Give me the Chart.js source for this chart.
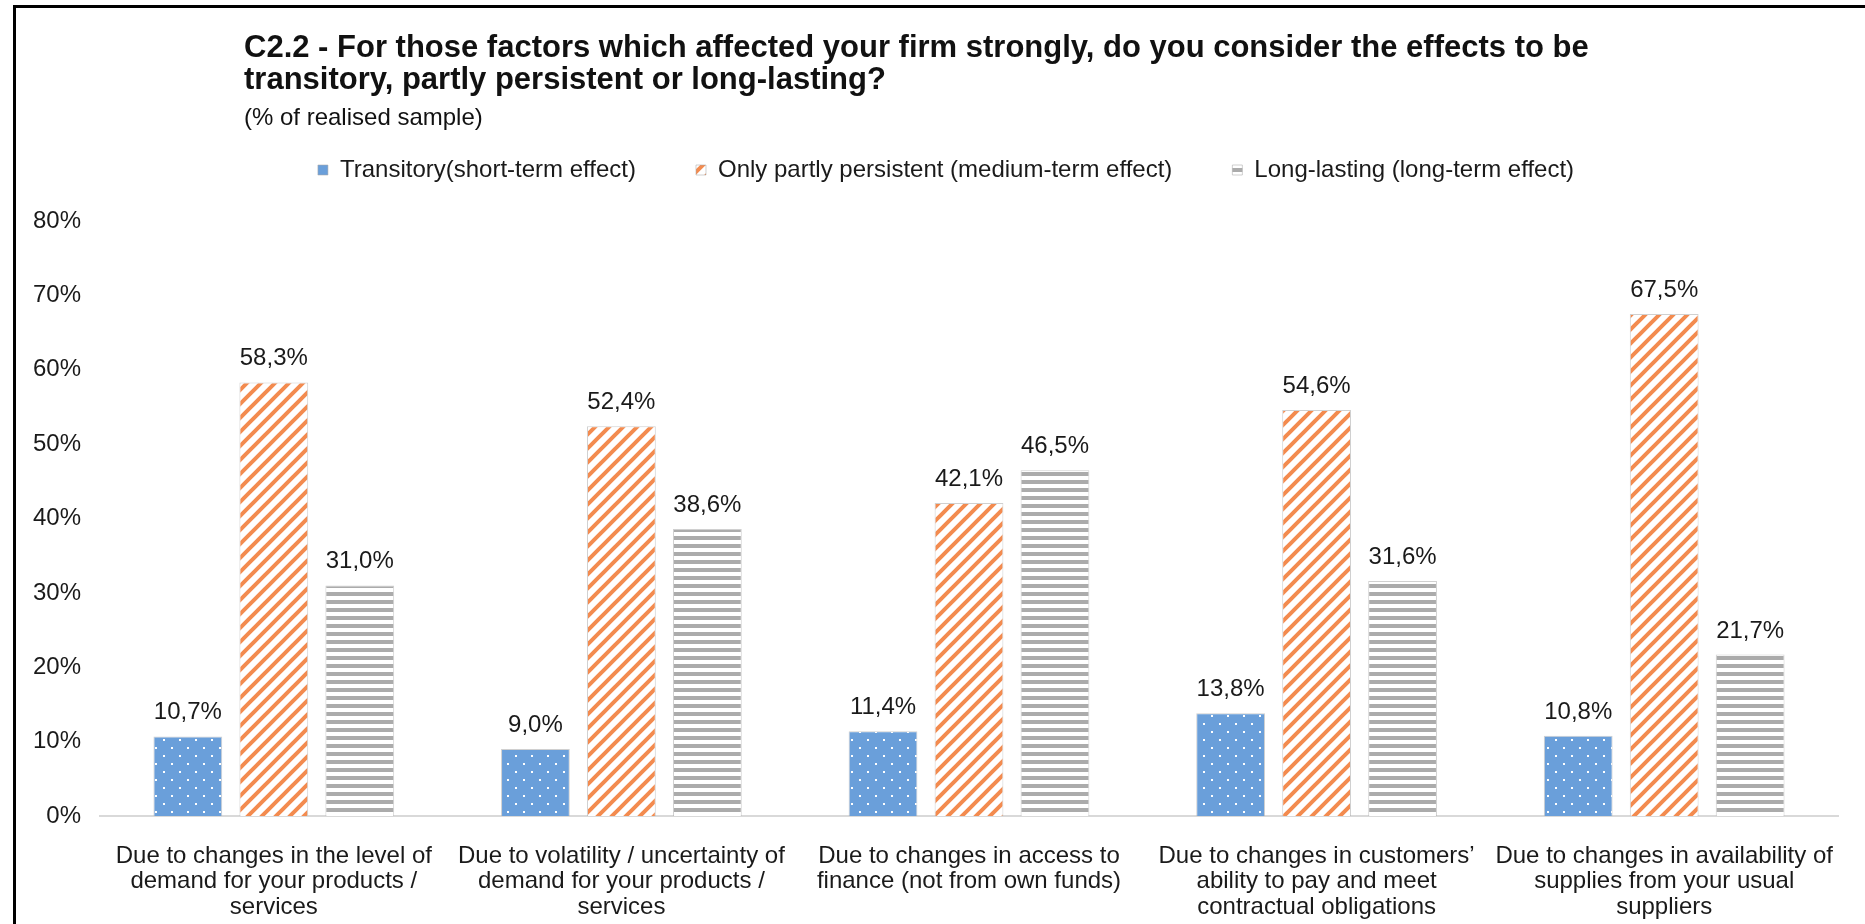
<!DOCTYPE html>
<html>
<head>
<meta charset="utf-8">
<title>C2.2 effects</title>
<script src="https://cdn.jsdelivr.net/npm/chart.js@4.4.1/dist/chart.umd.min.js"></script>
<style>
    html, body { margin: 0; padding: 0; background: #fff; }
    #wrap { width: 1865px; height: 924px; }
</style>
</head>
<body>
<div id="wrap"><canvas id="effectsChart" width="1865" height="924"></canvas></div>
<script>
// chart data
const categories = [
    ['Due to changes in the level of', 'demand for your products /', 'services'],
    ['Due to volatility / uncertainty of', 'demand for your products /', 'services'],
    ['Due to changes in access to', 'finance (not from own funds)'],
    ['Due to changes in customers\u2019', 'ability to pay and meet', 'contractual obligations'],
    ['Due to changes in availability of', 'supplies from your usual', 'suppliers']
];
const seriesNames = [
    'Transitory(short-term effect)',
    'Only partly persistent (medium-term effect)',
    'Long-lasting (long-term effect)'
];
const transitory = [10.7, 9.0, 11.4, 13.8, 10.8];
const partlyPersistent = [58.3, 52.4, 42.1, 54.6, 67.5];
const longLasting = [31.0, 38.6, 46.5, 31.6, 21.7];
const yTicks = [0, 10, 20, 30, 40, 50, 60, 70, 80];

const titleLines = [
    'C2.2 - For those factors which affected your firm strongly, do you consider the effects to be',
    'transitory, partly persistent or long-lasting?'
];
const subtitleText = '(% of realised sample)';

const FONT = '"Liberation Sans", Arial, sans-serif';

document.addEventListener('DOMContentLoaded', function() {
    const canvas = document.getElementById('effectsChart');
    const ctx = canvas.getContext('2d');

    // Pattern fills like the Excel original
    function makeTile(w, h, draw) {
        const t = document.createElement('canvas');
        t.width = w;
        t.height = h;
        draw(t.getContext('2d'), w, h);
        return ctx.createPattern(t, 'repeat');
    }

    const dotPattern = makeTile(16, 16, function(c, w, h) {
        c.fillStyle = '#6a9fda';
        c.fillRect(0, 0, w, h);
        c.fillStyle = '#ffffff';
        c.fillRect(3, 3, 2, 2);
        c.fillRect(11, 11, 2, 2);
    });

    const diagPattern = makeTile(14, 14, function(c, w, h) {
        c.fillStyle = '#ffffff';
        c.fillRect(0, 0, w, h);
        c.strokeStyle = '#f38b4f';
        c.lineWidth = 4;
        c.beginPath();
        c.moveTo(-2, h + 2); c.lineTo(w + 2, -2);
        c.moveTo(-2 - w, h + 2); c.lineTo(2, -2);
        c.moveTo(w - 2, h + 2); c.lineTo(2 * w + 2, -2);
        c.stroke();
    });

    const stripePattern = makeTile(8, 8, function(c, w, h) {
        c.fillStyle = '#ffffff';
        c.fillRect(0, 0, w, h);
        c.fillStyle = '#ababab';
        c.fillRect(0, 0, w, 4);
    });

    Chart.defaults.font.family = FONT;
    Chart.defaults.font.size = 24;
    Chart.defaults.color = '#1a1a1a';

    // Title, subtitle and frame
    const framePlugin = {
        id: 'frameTitle',
        beforeDraw(chart) {
            const c = chart.ctx;
            c.save();
            c.fillStyle = '#ffffff';
            c.fillRect(0, 0, chart.width, chart.height);
            c.fillStyle = '#000000';
            c.fillRect(13, 5, chart.width - 13, 3);
            c.fillRect(13, 5, 3, chart.height - 5);
            c.fillStyle = '#111111';
            c.textAlign = 'left';
            c.textBaseline = 'alphabetic';
            c.font = 'bold 31px ' + FONT;
            c.fillText(titleLines[0], 244, 57);
            c.fillText(titleLines[1], 244, 89);
            c.font = '24px ' + FONT;
            c.fillText(subtitleText, 244, 125);
            c.restore();
        }
    };

    // Value labels above bars
    const valueLabels = {
        id: 'valueLabels',
        afterDatasetsDraw(chart) {
            const c = chart.ctx;
            c.save();
            c.font = '24px ' + FONT;
            c.fillStyle = '#1a1a1a';
            c.textAlign = 'center';
            c.textBaseline = 'alphabetic';
            chart.data.datasets.forEach(function(ds, i) {
                chart.getDatasetMeta(i).data.forEach(function(bar, j) {
                    const txt = ds.data[j].toFixed(1).replace('.', ',') + '%';
                    c.fillText(txt, bar.x, bar.y - 17);
                });
            });
            c.restore();
        }
    };

    // extra room below the legend, and nudge it right like the original
    const legendSpace = {
        id: 'legendSpace',
        beforeInit(chart) {
            const fit = chart.legend.fit;
            chart.legend.fit = function() {
                fit.bind(chart.legend)();
                this.height += 29;
            };
        },
        afterLayout(chart) {
            chart.legend.left += 17;
            chart.legend.right += 17;
        }
    };

    const barBorder = 'rgba(170,170,170,0.55)';

    new Chart(ctx, {
        type: 'bar',
        data: {
            labels: categories,
            datasets: [
                { label: seriesNames[0], data: transitory, backgroundColor: dotPattern, borderColor: barBorder, borderWidth: 1 },
                { label: seriesNames[1], data: partlyPersistent, backgroundColor: diagPattern, borderColor: barBorder, borderWidth: 1 },
                { label: seriesNames[2], data: longLasting, backgroundColor: stripePattern, borderColor: barBorder, borderWidth: 1 }
            ]
        },
        options: {
            responsive: false,
            animation: false,
            devicePixelRatio: 1,
            categoryPercentage: 0.742,
            barPercentage: 0.8,
            layout: { padding: { top: 98, left: 20, right: 27, bottom: 0 } },
            plugins: {
                title: { display: false },
                tooltip: { enabled: false },
                legend: {
                    position: 'top',
                    labels: {
                        boxWidth: 10,
                        boxHeight: 10,
                        padding: 60,
                        color: '#1a1a1a',
                        font: { size: 24 }
                    }
                }
            },
            scales: {
                x: {
                    grid: { display: true, drawOnChartArea: false, drawTicks: false },
                    border: { display: true, color: '#d9d9d9', width: 2 },
                    ticks: {
                        padding: 27,
                        maxRotation: 0,
                        autoSkip: false,
                        color: '#1a1a1a',
                        font: { size: 24, lineHeight: 1.075 }
                    },
                    afterFit(scale) { scale.height = 108; }
                },
                y: {
                    min: 0,
                    max: 80,
                    grid: { display: false, drawTicks: false },
                    border: { display: false },
                    afterBuildTicks(scale) {
                        scale.ticks = yTicks.map(v => ({ value: v }));
                    },
                    ticks: {
                        padding: 19,
                        color: '#1a1a1a',
                        font: { size: 24 },
                        callback: v => v + '%'
                    },
                    afterFit(scale) { scale.width = 80; }
                }
            }
        },
        plugins: [framePlugin, valueLabels, legendSpace]
    });
});
</script>
</body>
</html>
